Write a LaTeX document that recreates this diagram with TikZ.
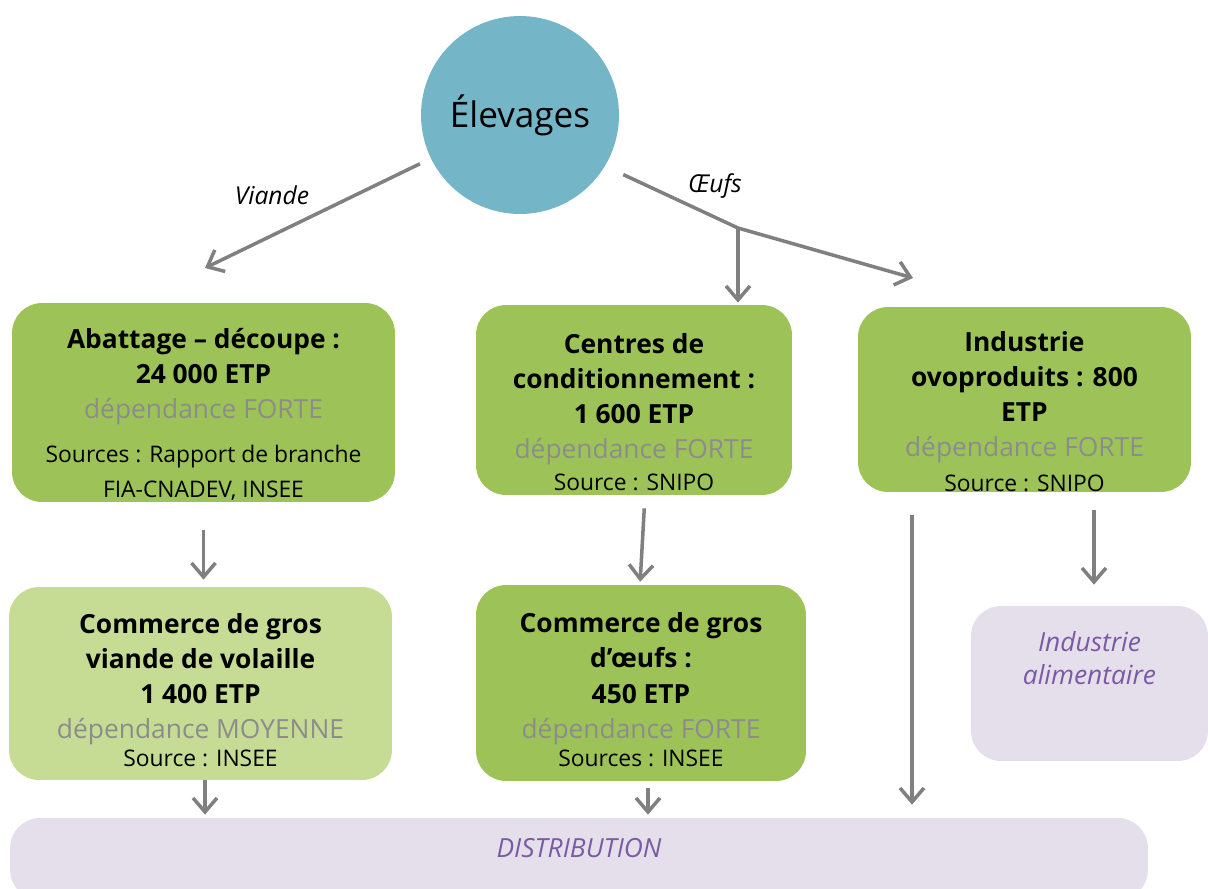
\documentclass[tikz,border=0pt]{standalone}
\usepackage{fontspec}
\setmainfont{Open Sans}
\usepackage{tikz}
\usetikzlibrary{arrows.meta,positioning,calc}
\definecolor{vertfort}{RGB}{157,195,88}
\definecolor{vertclair}{RGB}{198,220,148}
\definecolor{lavande}{RGB}{229,223,236}
\definecolor{mauve}{RGB}{123,90,165}
\definecolor{bleuelev}{RGB}{116,181,199}
\definecolor{grisfl}{RGB}{128,128,128}
\definecolor{gristxt}{RGB}{140,140,140}

\newcommand{\dep}[1]{{\mdseries\fontsize{15}{20}\selectfont\color{gristxt}dépendance #1}}
\newcommand{\src}[1]{{\mdseries\fontsize{13}{20}\selectfont #1}}
\newcommand{\haut}[1][25pt]{\rule{0pt}{#1}}

\begin{document}
\begin{tikzpicture}[
    x=0.02cm, y=-0.02cm,
    boite/.style={rectangle, rounded corners=0.6cm, fill=vertfort,
        inner sep=0pt, align=center,
        font=\fontsize{15}{20}\selectfont\bfseries},
    aval/.style={rectangle, rounded corners=0.6cm, fill=lavande,
        inner sep=0pt, align=center, text=mauve,
        font=\fontsize{15}{19}\selectfont\itshape},
    etiq/.style={font=\fontsize{14}{16}\selectfont\itshape},
    fleche/.style={-{Straight Barb[length=2.8mm,width=4.8mm]},
        line width=2pt, grisfl}
]
    \useasboundingbox (0,0) rectangle (1208,889);
    \clip (0,0) rectangle (1208,889);

    \node[circle, fill=bleuelev, minimum size=3.96cm, inner sep=0pt,
        font=\fontsize{20}{24}\selectfont] (elev) at (520,115) {Élevages};

    % premiere rangee
    \node[boite, minimum width=7.66cm, minimum height=3.98cm] (abat) at (203.5,402.5)
        {\haut Abattage – découpe :\\24 000 ETP\\\dep{FORTE}\\[5pt]
         \src{Sources : Rapport de branche}\\\src{FIA-CNADEV, INSEE}};
    \node[boite, minimum width=6.32cm, minimum height=3.8cm] (cond) at (634,400)
        {\haut Centres de\\conditionnement :\\1 600 ETP\\\dep{FORTE}\\[-2pt]\src{Source : SNIPO}};
    \node[boite, minimum width=6.66cm, minimum height=3.7cm] (ovo) at (1024.5,399.5)
        {\haut Industrie\\ovoproduits : 800\\ETP\\\dep{FORTE}\\\src{Source : SNIPO}};

    % deuxieme rangee
    \node[boite, fill=vertclair, minimum width=7.66cm, minimum height=3.86cm] (comV) at (200.5,683.5)
        {\haut[19pt]Commerce de gros\\viande de volaille\\1 400 ETP\\\dep{MOYENNE}\\[-4pt]\src{Source : INSEE}};
    \node[boite, minimum width=6.6cm, minimum height=3.92cm] (comO) at (641,683)
        {\haut[19pt]Commerce de gros\\d’œufs :\\450 ETP\\\dep{FORTE}\\[-4pt]\src{Sources : INSEE}};
    \node[aval, minimum width=4.74cm, minimum height=3.1cm, text depth=29pt] (alim) at (1089.5,683.5)
        {Industrie\\alimentaire};

    \node[aval, minimum width=22.76cm, minimum height=1.64cm, text depth=12.5pt] (dist) at (579,859)
        {DISTRIBUTION};

    \node[etiq] (lviande) at (272,195) {Viande};
    \node[etiq] (loeufs) at (715,186) {Œufs};

    % points libres des fleches
    \coordinate (pointeViande) at (205,268);
    \coordinate (fourche) at (738,228);
    \coordinate (pointeOvo) at (913,278);
    \coordinate (condBas) at ($(cond.south)+(11,0)$);
    \coordinate (comOHaut) at ($(comO.north)+(-1,0)$);
    \coordinate (ovoBas) at ($(ovo.south)+(69.5,0)$);
    \coordinate (ovoGauche) at ($(ovo.south)+(-112.5,0)$);
    \coordinate (comVBas) at ($(comV.south)+(4.5,0)$);
    \coordinate (comOBas) at ($(comO.south)+(7,0)$);

    \draw[fleche, shorten <=0.24cm] (elev.206) -- (pointeViande);
    \draw[fleche, shorten <=0.4cm] (elev.329) -- (fourche) -- (pointeOvo);
    \draw[fleche, shorten >=0.04cm] (fourche) -- (fourche |- cond.north);

    \draw[fleche, shorten <=0.56cm, shorten >=0.14cm] (abat.south) -- (abat.south |- comV.north);
    \draw[fleche, shorten <=0.26cm, shorten >=0.06cm] (condBas) -- (comOHaut);
    \draw[fleche, shorten <=0.36cm, shorten >=0.42cm] (ovoBas) -- (ovoBas |- alim.north);
    \draw[fleche, shorten <=0.46cm, shorten >=0.26cm] (ovoGauche) -- (ovoGauche |- dist.north);
    \draw[fleche, shorten >=0.06cm] (comVBas) -- (comVBas |- dist.north);
    \draw[fleche, shorten <=0.14cm, shorten >=0.06cm] (comOBas) -- (comOBas |- dist.north);
\end{tikzpicture}
\end{document}
